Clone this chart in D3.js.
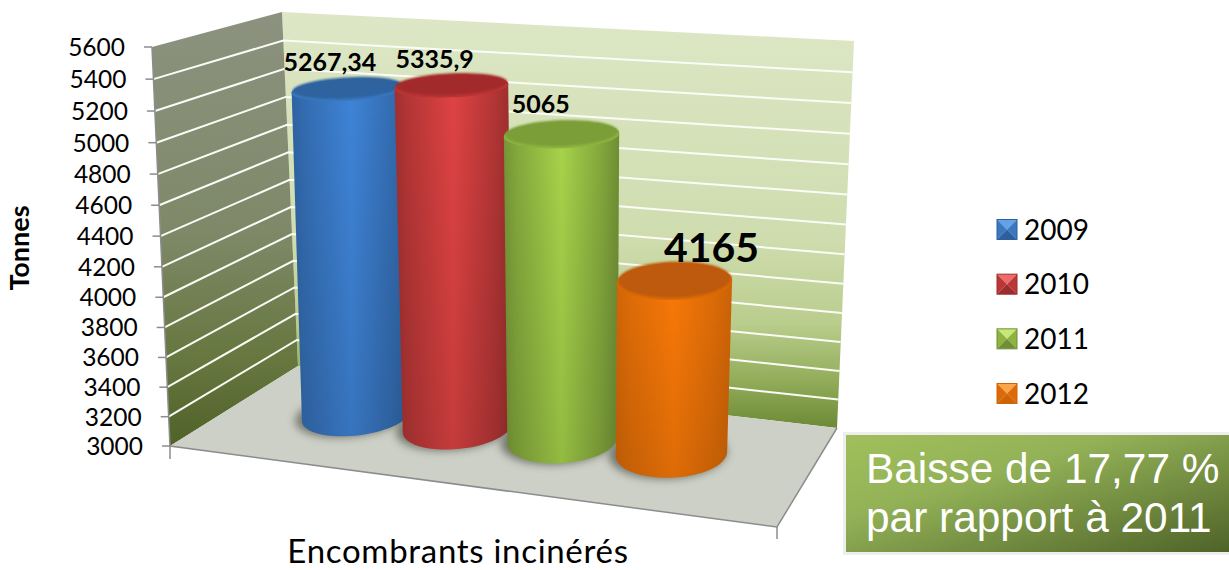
<!DOCTYPE html>
<html>
<head>
<meta charset="utf-8">
<script src="https://cdn.jsdelivr.net/npm/d3@7"></script>
<style>
  html, body { margin: 0; padding: 0; background: #fff; overflow: hidden; }
  svg { display: block; }
  text { font-family: Lato, "Open Sans", sans-serif; fill: #000; }
</style>
</head>
<body>
<div id="chart"></div>
<script>
const years = ["2009", "2010", "2011", "2012"];
const tonnes = [5267.34, 5335.9, 5065, 4165];
const valueLabels = ["5267,34", "5335,9", "5065", "4165"];
const yTicks = [3000, 3200, 3400, 3600, 3800, 4000, 4200, 4400, 4600, 4800, 5000, 5200, 5400, 5600];

const bodyColors = [
  { edge: "#2c5f9c", mid: "#3f84d8", cap: "#2f649f", rim: "#3a78c0", top: "#62a2e6" },
  { edge: "#9a2d2d", mid: "#e04343", cap: "#a32c2c", rim: "#bd3636", top: "#ef6a6a" },
  { edge: "#6f8f34", mid: "#a8d44a", cap: "#7c9e38", rim: "#8fb340", top: "#c6e878" },
  { edge: "#cf6407", mid: "#fb7a08", cap: "#bd5a09", rim: "#dc6a08", top: "#fba548" }
];
const labelSizes = [25, 25, 25, 41];
const labelOffsets = [[-18, -27], [-17, -27], [-21, -31], [37, -34]];

const svg = d3.select("#chart").append("svg").attr("width", 1229).attr("height", 570);
const defs = svg.append("defs");

// unit square -> quad, so the floor and the ceiling of the box keep their perspective
function quadMap(p0, p1, p2, p3) {
  const sx = p0[0] - p1[0] + p2[0] - p3[0], sy = p0[1] - p1[1] + p2[1] - p3[1];
  const dx1 = p1[0] - p2[0], dx2 = p3[0] - p2[0], dy1 = p1[1] - p2[1], dy2 = p3[1] - p2[1];
  const den = dx1 * dy2 - dx2 * dy1;
  const g = (sx * dy2 - dx2 * sy) / den, h = (dx1 * sy - sx * dy1) / den;
  const a = p1[0] - p0[0] + g * p1[0], b = p3[0] - p0[0] + h * p3[0];
  const d = p1[1] - p0[1] + g * p1[1], e = p3[1] - p0[1] + h * p3[1];
  return (u, v) => {
    const w = g * u + h * v + 1;
    return [(a * u + b * v + p0[0]) / w, (d * u + e * v + p0[1]) / w];
  };
}

const floorMap = quadMap([170, 446], [777, 527], [837, 428], [298, 366]);
const ceilMap = quadMap([152, 47], [793, 87], [854, 41], [282, 12]);
const heightBias = 0.951;

const yScale = d3.scaleLinear().domain([3000, 5600]).range([0, 1]);
const xBand = d3.scaleBand().domain(years).range([0.125, 0.865]);

// u along the front edge, v going to the back wall, t going up
function project(u, v, t) {
  const f = floorMap(u, v), c = ceilMap(u, v);
  const k = t * heightBias, n = 1 - t + k;
  return [(f[0] * (1 - t) + c[0] * k) / n, (f[1] * (1 - t) + c[1] * k) / n];
}

function vGradient(id, stops) {
  const g = defs.append("linearGradient").attr("id", id).attr("x1", 0).attr("x2", 0).attr("y1", 0).attr("y2", 1);
  stops.forEach((s) => g.append("stop").attr("offset", s[0]).attr("stop-color", s[1]));
}

vGradient("backWall", [[0, "#dde7c6"], [0.55, "#cfdcae"], [0.75, "#b9cd8c"], [0.88, "#94ae5c"], [1, "#6c8a36"]]);
vGradient("leftWall", [[0, "#8c927f"], [0.5, "#7f8969"], [0.8, "#66773f"], [1, "#4f6228"]]);

const line = d3.line();

// walls and floor
svg.append("path")
  .attr("d", line([project(0, 1, 1), project(1, 1, 1), project(1, 1, 0), project(0, 1, 0)]) + "Z")
  .attr("fill", "url(#backWall)");
svg.append("path")
  .attr("d", line([project(0, 0, 1), project(0, 1, 1), project(0, 1, 0), project(0, 0, 0)]) + "Z")
  .attr("fill", "url(#leftWall)");
svg.append("path")
  .attr("d", line([project(0, 0, 0), project(1, 0, 0), project(1, 1, 0), project(0, 1, 0)]) + "Z")
  .attr("fill", "#cdd0c6");

// grid
const grid = svg.append("g").attr("fill", "none").attr("stroke", "#fbfcf6").attr("stroke-width", 2);
yTicks.slice(1, -1).forEach((tick) => {
  const t = yScale(tick);
  grid.append("path").attr("d", line([project(0, 0, t), project(0, 1, t), project(1, 1, t)]));
});

// axis lines
const axisGrey = "#8c8c8c";
const axisG = svg.append("g").attr("stroke", axisGrey).attr("stroke-width", 1.5).attr("fill", "none");
axisG.append("path").attr("d", line([project(0, 0, 1), project(0, 0, 0), project(1, 0, 0), project(1, 1, 0)]));
axisG.append("path").attr("d", line([project(0, 0, 0), [170, 459]]));
axisG.append("path").attr("d", line([project(1, 0, 0), [777, 539]]));

yTicks.forEach((tick) => {
  const p = project(0, 0, yScale(tick));
  axisG.append("path").attr("d", line([[p[0] - 8, p[1]], p]));
  svg.append("text")
    .attr("x", p[0] - 27)
    .attr("y", p[1] + 9)
    .attr("text-anchor", "end")
    .attr("font-size", 24.5)
    .text(tick);
});

// cylinders
const ruBase = 0.087, rvBase = 0.25, depth = 0.54, barHeight = 0.985, topLean = 4;
const ringAngles = d3.range(0, 360, 6).map((a) => (a * Math.PI) / 180);

function ring(u, t, grow) {
  return ringAngles.map((a) => {
    const p = project(u + ruBase * grow * Math.cos(a), depth + rvBase * grow * Math.sin(a), t * barHeight);
    return [p[0] + t * topLean, p[1]];
  });
}

const blur = defs.append("filter").attr("id", "shadowBlur").attr("x", "-30%").attr("y", "-30%").attr("width", "160%").attr("height", "160%");
blur.append("feGaussianBlur").attr("stdDeviation", 4);
const capBlur = defs.append("filter").attr("id", "capBlur").attr("x", "-10%").attr("y", "-20%").attr("width", "120%").attr("height", "140%");
capBlur.append("feGaussianBlur").attr("stdDeviation", 1.2);

const bodyShade = defs.append("linearGradient").attr("id", "bodyShade").attr("x1", 0).attr("x2", 0).attr("y1", 0).attr("y2", 1);
bodyShade.append("stop").attr("offset", 0).attr("stop-color", "#000").attr("stop-opacity", 0);
bodyShade.append("stop").attr("offset", 1).attr("stop-color", "#000").attr("stop-opacity", 0.12);

years.forEach((year, i) => {
  const u = xBand(year) + xBand.bandwidth() / 2;
  const c = bodyColors[i];

  const grad = defs.append("linearGradient").attr("id", "body" + year);
  const blend = d3.interpolateRgb(c.edge, c.mid);
  [[0, blend(0.1)], [0.1, blend(0.35)], [0.5, c.mid], [0.85, blend(0.35)], [1, c.edge]].forEach((s) =>
    grad.append("stop").attr("offset", s[0]).attr("stop-color", s[1]));

  // ground shadow
  svg.append("path")
    .attr("d", line(ring(u - 0.006, 0, 1.06)) + "Z")
    .attr("fill", "#55584f")
    .attr("opacity", 0.75)
    .attr("filter", "url(#shadowBlur)");
});

years.forEach((year, i) => {
  const u = xBand(year) + xBand.bandwidth() / 2;
  const t = yScale(tonnes[i]);
  const c = bodyColors[i];
  const top = ring(u, t, 1);
  const hull = d3.polygonHull(top.concat(ring(u, 0, 1)));

  svg.append("path").attr("d", line(hull) + "Z").attr("fill", `url(#body${year})`);
  svg.append("path").attr("d", line(hull) + "Z").attr("fill", "url(#bodyShade)");
  svg.append("path").attr("d", line(top) + "Z").attr("fill", c.rim);
  // the dark face sits a little high, so only the lower edge of the cap shows light
  svg.append("path")
    .attr("d", line(ring(u, t, 0.98).map((p) => [p[0], p[1] - 2])) + "Z")
    .attr("fill", c.cap)
    .attr("filter", "url(#capBlur)");
});

// value labels go on top of every cylinder
years.forEach((year, i) => {
  const u = xBand(year) + xBand.bandwidth() / 2;
  const t = yScale(tonnes[i]);
  const p = project(u, depth, t * barHeight);
  svg.append("text")
    .attr("x", p[0] + t * topLean + labelOffsets[i][0])
    .attr("y", p[1] + labelOffsets[i][1] + labelSizes[i] * 0.36)
    .attr("text-anchor", "middle")
    .attr("font-size", labelSizes[i])
    .attr("font-weight", 700)
    .text(valueLabels[i]);
});

// axis titles
svg.append("text")
  .attr("transform", "translate(29,248) rotate(-90)")
  .attr("text-anchor", "middle")
  .attr("font-size", 27)
  .attr("font-weight", 700)
  .text("Tonnes");
svg.append("text")
  .attr("x", 458)
  .attr("y", 563)
  .attr("text-anchor", "middle")
  .attr("font-size", 33)
  .attr("letter-spacing", 0.7)
  .text("Encombrants incinérés");

// legend with the bevelled markers
const legendY = d3.scalePoint().domain(years).range([229.5, 393.5]);
years.forEach((year, i) => {
  const y = legendY(year), c = bodyColors[i], s = 10, x = 1007;
  const g = svg.append("g");
  const faces = [
    [[x - s, y - s], [x + s, y - s], [x, y], c.top],
    [[x - s, y - s], [x - s, y + s], [x, y], c.rim],
    [[x + s, y - s], [x + s, y + s], [x, y], c.rim],
    [[x - s, y + s], [x + s, y + s], [x, y], c.edge]
  ];
  faces.forEach((f) => g.append("path").attr("d", line(f.slice(0, 3)) + "Z").attr("fill", f[3]));
  g.append("rect").attr("x", x - s).attr("y", y - s).attr("width", 2 * s).attr("height", 2 * s)
    .attr("fill", "none").attr("stroke", c.edge).attr("stroke-width", 1);
  svg.append("text")
    .attr("x", 1024)
    .attr("y", y + 10)
    .attr("font-size", 28)
    .text(year);
});

// callout box
const boxGrad = defs.append("linearGradient").attr("id", "boxFill").attr("x1", 0).attr("y1", 0).attr("x2", 1).attr("y2", 1);
boxGrad.append("stop").attr("offset", 0).attr("stop-color", "#a0c05c");
boxGrad.append("stop").attr("offset", 0.35).attr("stop-color", "#93b257");
boxGrad.append("stop").attr("offset", 1).attr("stop-color", "#4d6127");
svg.append("rect")
  .attr("x", 844.5).attr("y", 433.5).attr("width", 390).attr("height", 120)
  .attr("fill", "url(#boxFill)")
  .attr("stroke", "#eeeeee").attr("stroke-width", 3);
["Baisse de 17,77 %", "par rapport à 2011"].forEach((s, i) => {
  svg.append("text")
    .attr("x", 866)
    .attr("y", 483 + i * 49)
    .attr("font-size", 42.4)
    .style("font-family", '"Liberation Sans", Arial, sans-serif')
    .style("fill", "#fff")
    .text(s);
});
</script>
</body>
</html>
